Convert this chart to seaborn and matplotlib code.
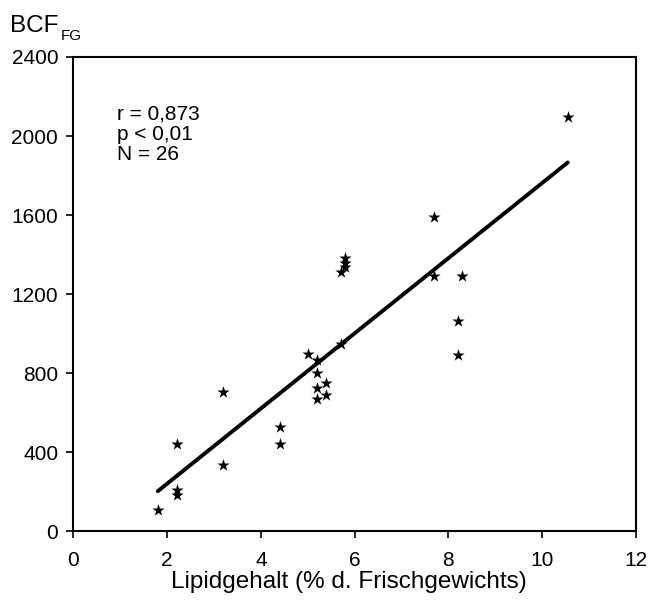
import matplotlib
matplotlib.use("Agg")
import matplotlib.pyplot as plt
import seaborn as sns
import pandas as pd
import numpy as np

# lipid content (% fresh weight) and BCF_FG
lipid = [1.8, 2.2, 2.2, 2.2, 3.2, 3.2, 4.4, 4.4, 5.0, 5.2, 5.2, 5.2, 5.2,
         5.4, 5.4, 5.7, 5.7, 5.8, 5.8, 5.8, 7.7, 7.7, 8.3, 8.2, 8.2, 10.55]
bcf = [110, 210, 185, 445, 705, 335, 530, 445, 900, 865, 800, 724, 670,
       750, 692, 950, 1311, 1340, 1360, 1383, 1592, 1293, 1293, 1067, 895, 2096]

x_ticks = [0, 2, 4, 6, 8, 10, 12]
y_ticks = [0, 400, 800, 1200, 1600, 2000, 2400]
stats_text = "r = 0,873\np < 0,01\nN = 26"

df = pd.DataFrame({"Lipid": lipid, "BCF": bcf})

sns.set_style("white")
plt.rcParams['font.family'] = ['Liberation Sans', 'DejaVu Sans']
plt.rcParams['text.color'] = 'black'
plt.rcParams['axes.labelcolor'] = 'black'
plt.rcParams['xtick.color'] = 'black'
plt.rcParams['ytick.color'] = 'black'

fig = plt.figure(figsize=(6.5, 6.07), dpi=100)
ax = fig.add_axes([0.113, 0.1244, 0.865, 0.7817])

sns.regplot(x="Lipid", y="BCF", data=df, ax=ax, ci=None, truncate=True,
            marker="*", color="black",
            scatter_kws={"s": 85, "linewidths": 0, "alpha": 1},
            line_kws={"lw": 2.8})

ax.set_xlim(0, 12)
ax.set_ylim(0, 2400)
ax.set_xticks(x_ticks)
ax.set_yticks(y_ticks)
ax.tick_params(axis="both", direction="out", length=5, width=1.2,
               labelsize=15, left=True, bottom=True)
ax.tick_params(axis="y", pad=6)
ax.tick_params(axis="x", pad=9)
for s in ax.spines.values():
    s.set_color("black")
    s.set_linewidth(1.5)

ax.set_xlabel("Lipidgehalt (% d. Frischgewichts)", fontsize=17.5)
ax.xaxis.set_label_coords(0.49, -0.084)
ax.set_ylabel("")
fig.text(0.015, 0.947, "BCF", fontsize=17.5, ha="left", va="baseline")
fig.text(0.094, 0.934, "FG", fontsize=11, ha="left", va="baseline")

ax.text(0.077, 0.899, stats_text, transform=ax.transAxes, fontsize=15,
        va="top", ha="left", linespacing=1.07)

fig.savefig("out.png", dpi=100)
